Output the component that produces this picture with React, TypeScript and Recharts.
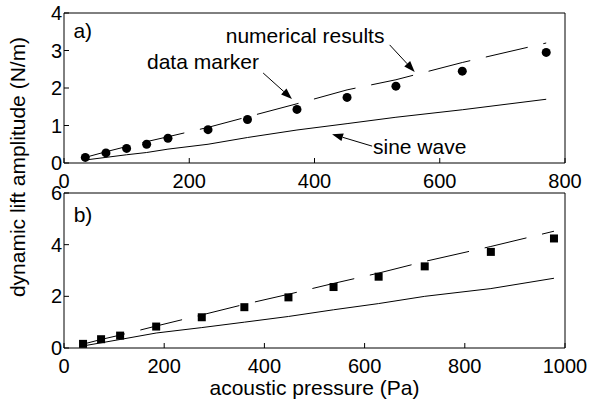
import React from "react";
import {
  ComposedChart,
  Line,
  Scatter,
  XAxis,
  YAxis,
  ReferenceLine,
  ReferenceDot,
} from "recharts";

const FONT = "'Liberation Sans', Arial, Helvetica, sans-serif";

// panel a) - circles
const pressureA = [34, 67, 100, 132, 166, 230, 293, 372, 452, 530, 636, 770];
const markerA = [0.15, 0.27, 0.39, 0.5, 0.66, 0.89, 1.16, 1.43, 1.75, 2.05, 2.45, 2.95];
const numericalA = [0.15, 0.3, 0.44, 0.57, 0.7, 0.95, 1.23, 1.58, 1.95, 2.22, 2.68, 3.2];
const sineA = [0.08, 0.15, 0.22, 0.28, 0.37, 0.5, 0.68, 0.88, 1.05, 1.22, 1.42, 1.7];
const xTicksA = [0, 200, 400, 600, 800];
const yTicksA = [0, 1, 2, 3, 4];

// panel b) - squares
const pressureB = [38, 74, 112, 184, 275, 360, 448, 538, 628, 720, 852, 978];
const markerB = [0.16, 0.34, 0.48, 0.83, 1.19, 1.58, 1.96, 2.36, 2.76, 3.16, 3.72, 4.24];
const numericalB = [0.15, 0.33, 0.5, 0.85, 1.28, 1.69, 2.08, 2.5, 2.9, 3.35, 3.93, 4.52];
const sineB = [0.08, 0.2, 0.33, 0.58, 0.79, 1.0, 1.22, 1.48, 1.72, 2.0, 2.3, 2.7];
const xTicksB = [0, 200, 400, 600, 800, 1000];
const yTicksB = [0, 2, 4, 6];

// annotations (data coordinates)
const notesA = [
  { text: "a)", x: 30, y: 3.52 },
  { text: "numerical results", x: 385, y: 3.41 },
  { text: "data marker", x: 222, y: 2.71 },
  { text: "sine wave", x: 568, y: 0.43 },
];
const arrowsA = [
  { from: [520, 3.15], to: [560, 2.43] },
  { from: [318, 2.4], to: [364, 1.71] },
  { from: [492, 0.45], to: [428, 0.77] },
];
const notesB = [{ text: "b)", x: 38, y: 5.15 }];

const dataA = pressureA.map((x, i) => ({
  x,
  marker: markerA[i],
  numerical: numericalA[i],
  sine: sineA[i],
}));
const dataB = pressureB.map((x, i) => ({
  x,
  marker: markerB[i],
  numerical: numericalB[i],
  sine: sineB[i],
}));

const tickStyle = { fill: "#000", fontSize: 20, fontFamily: FONT };
const black = { stroke: "#000", strokeWidth: 1 };

function Arrow(props: any) {
  const { x1, y1, x2, y2 } = props;
  const ang = Math.atan2(y2 - y1, x2 - x1);
  const len = 11;
  const half = 4;
  const bx = x2 - len * Math.cos(ang);
  const by = y2 - len * Math.sin(ang);
  const px = -Math.sin(ang) * half;
  const py = Math.cos(ang) * half;
  return (
    <g>
      <line x1={x1} y1={y1} x2={bx} y2={by} stroke="#000" strokeWidth={1} />
      <polygon
        points={`${x2},${y2} ${bx + px},${by + py} ${bx - px},${by - py}`}
        fill="#000"
      />
    </g>
  );
}

// four-sided box with inward ticks
function frame(xDomain: number[], xTicks: number[], yDomain: number[], yTicks: number[], xLabel?: string) {
  return [
    <XAxis
      key="xb"
      type="number"
      dataKey="x"
      domain={xDomain}
      ticks={xTicks}
      allowDataOverflow
      height={xLabel ? 52 : 27}
      tickSize={-5}
      tickMargin={16}
      axisLine={black}
      tickLine={black}
      tick={tickStyle}
      label={
        xLabel
          ? { value: xLabel, position: "insideBottom", offset: 5, fill: "#000", fontSize: 21, fontFamily: FONT }
          : undefined
      }
    />,
    <XAxis
      key="xt"
      xAxisId="top"
      orientation="top"
      type="number"
      dataKey="x"
      domain={xDomain}
      ticks={xTicks}
      allowDataOverflow
      height={1}
      tickSize={-5}
      axisLine={black}
      tickLine={black}
      tick={false}
    />,
    <YAxis
      key="yl"
      type="number"
      domain={yDomain}
      ticks={yTicks}
      allowDataOverflow
      width={64}
      tickSize={-5}
      tickMargin={7}
      axisLine={black}
      tickLine={black}
      tick={tickStyle}
    />,
    <YAxis
      key="yr"
      yAxisId="right"
      orientation="right"
      type="number"
      domain={yDomain}
      ticks={yTicks}
      allowDataOverflow
      width={1}
      tickSize={-5}
      axisLine={black}
      tickLine={black}
      tick={false}
    />,
  ];
}

function series(square: boolean) {
  return [
    <Line
      key="num"
      dataKey="numerical"
      stroke="#000"
      strokeWidth={1}
      strokeDasharray="43 16"
      dot={false}
      activeDot={false}
      isAnimationActive={false}
    />,
    <Line
      key="sine"
      dataKey="sine"
      stroke="#000"
      strokeWidth={1}
      dot={false}
      activeDot={false}
      isAnimationActive={false}
    />,
    <Scatter
      key="marker"
      dataKey="marker"
      isAnimationActive={false}
      shape={(p: any) =>
        square ? (
          <rect x={p.cx - 4} y={p.cy - 4} width={8} height={8} fill="#000" />
        ) : (
          <circle cx={p.cx} cy={p.cy} r={4.5} fill="#000" />
        )
      }
    />,
  ];
}

function notes(list: { text: string; x: number; y: number }[]) {
  return list.map((n) => (
    <ReferenceDot
      key={n.text}
      x={n.x}
      y={n.y}
      r={0}
      fill="none"
      stroke="none"
      ifOverflow="visible"
      label={{ value: n.text, position: "center", fill: "#000", fontSize: 21, fontFamily: FONT }}
    />
  ));
}

export default function App() {
  return (
    <div
      style={{
        position: "absolute",
        left: 0,
        top: 0,
        width: 590,
        height: 400,
        background: "#fff",
        fontFamily: FONT,
      }}
    >
      <div style={{ position: "absolute", left: 0, top: 0 }}>
        <ComposedChart
          width={590}
          height={200}
          data={dataA}
          margin={{ top: 12, right: 24, bottom: 10, left: 0 }}
        >
          {frame([0, 800], xTicksA, [0, 4], yTicksA)}
          {series(false)}
          {arrowsA.map((a, i) => (
            <ReferenceLine
              key={i}
              segment={[
                { x: a.from[0], y: a.from[1] },
                { x: a.to[0], y: a.to[1] },
              ]}
              ifOverflow="visible"
              shape={Arrow}
            />
          ))}
          {notes(notesA)}
        </ComposedChart>
      </div>
      <div style={{ position: "absolute", left: 0, top: 175 }}>
        <ComposedChart
          width={590}
          height={225}
          data={dataB}
          margin={{ top: 17, right: 24, bottom: 0, left: 0 }}
        >
          {frame([0, 1000], xTicksB, [0, 6], yTicksB, "acoustic pressure (Pa)")}
          {series(true)}
          {notes(notesB)}
        </ComposedChart>
      </div>
      <div style={{ position: "absolute", left: 18, top: 167, width: 0, height: 0 }}>
        <div
          style={{
            position: "absolute",
            left: 0,
            top: 0,
            transform: "translate(-50%, -50%) rotate(-90deg)",
            whiteSpace: "nowrap",
            fontSize: 21,
            lineHeight: "24px",
            color: "#000",
          }}
        >
          dynamic lift amplitude (N/m)
        </div>
      </div>
    </div>
  );
}
